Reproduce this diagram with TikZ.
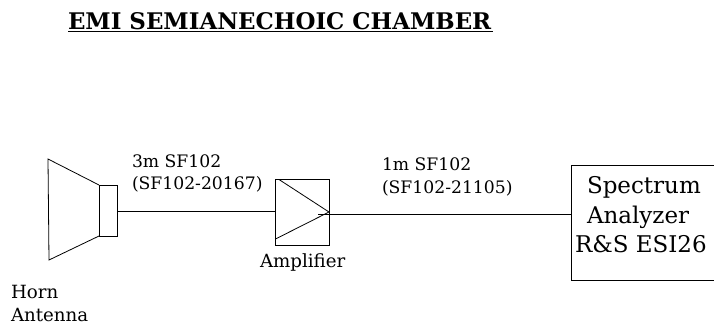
\documentclass[tikz,border=0pt]{standalone}
\usepackage{fontspec}
\setmainfont{DejaVu Serif}
\usetikzlibrary{calc}
\tikzset{
  x=1pt,y=-1pt,
  box/.style={draw=black,line width=0.8pt,inner sep=0pt,outer sep=0pt},
  wire/.style={draw=black,line width=0.8pt},
  lbl/.style={inner sep=0pt,outer sep=0pt,anchor=base west,text=black},
  small/.style={font=\fontsize{17.2}{18}\selectfont},
  mid/.style={font=\fontsize{18.2}{20}\selectfont},
  big/.style={font=\fontsize{23}{26}\selectfont}
}
\begin{document}
\begin{tikzpicture}
\useasboundingbox (0,0) rectangle (714,325);
\fill[white] (0,0) rectangle (714,325);
\node[lbl,font=\bfseries\fontsize{22.9}{26}\selectfont] (title) at (68,29) {EMI SEMIANECHOIC CHAMBER};
\draw[line width=1.6pt] (68,31.5) -- (493,31.5);
% horn
\draw[wire] (99,185) -- (48,159) -- (49,260) -- (99,236);
\node[box,minimum width=18pt,minimum height=51pt] (coupler) at (108,210.5) {};
% amplifier
\node[box,minimum width=53.5pt,minimum height=65.5pt] (amp) at (302.2,212.2) {};
\coordinate (ampA) at (279,179.5);
\coordinate (ampB) at (329,212);
\coordinate (ampC) at (275.5,239);
\draw[wire] (ampA) -- (ampB) -- (ampC);
\coordinate (ampOut) at (318,214.5);
% analyzer
\draw[wire] (714,165) -- (571,165) -- (571,280.5) -- (714,280.5);
\coordinate (saIn) at (571,214.5);
\coordinate (antOut) at (118,211);
\coordinate (ampIn) at (275.5,211);
\draw[wire] (antOut) -- (ampIn);
\draw[wire] (ampOut) -- (saIn);
% labels
\node[lbl,small] (l1) at (132,167) {3m SF102};
\node[lbl,small] (l2) at (132,189) {(SF102-20167)};
\node[lbl,small] (l3) at (382,170) {1m SF102};
\node[lbl,small] (l4) at (382,193) {(SF102-21105)};
\node[lbl,mid] (l5) at (260,267) {Amplifier};
\node[lbl,mid] (l6) at (11,298) {Horn};
\node[lbl,mid] (l7) at (11,321) {Antenna};
\node[lbl,big] (s1) at (587,193) {Spectrum};
\node[lbl,big] (s2) at (587,223) {Analyzer};
\node[lbl,big] (s3) at (575,252) {R\&S ESI26};
\end{tikzpicture}
\end{document}
